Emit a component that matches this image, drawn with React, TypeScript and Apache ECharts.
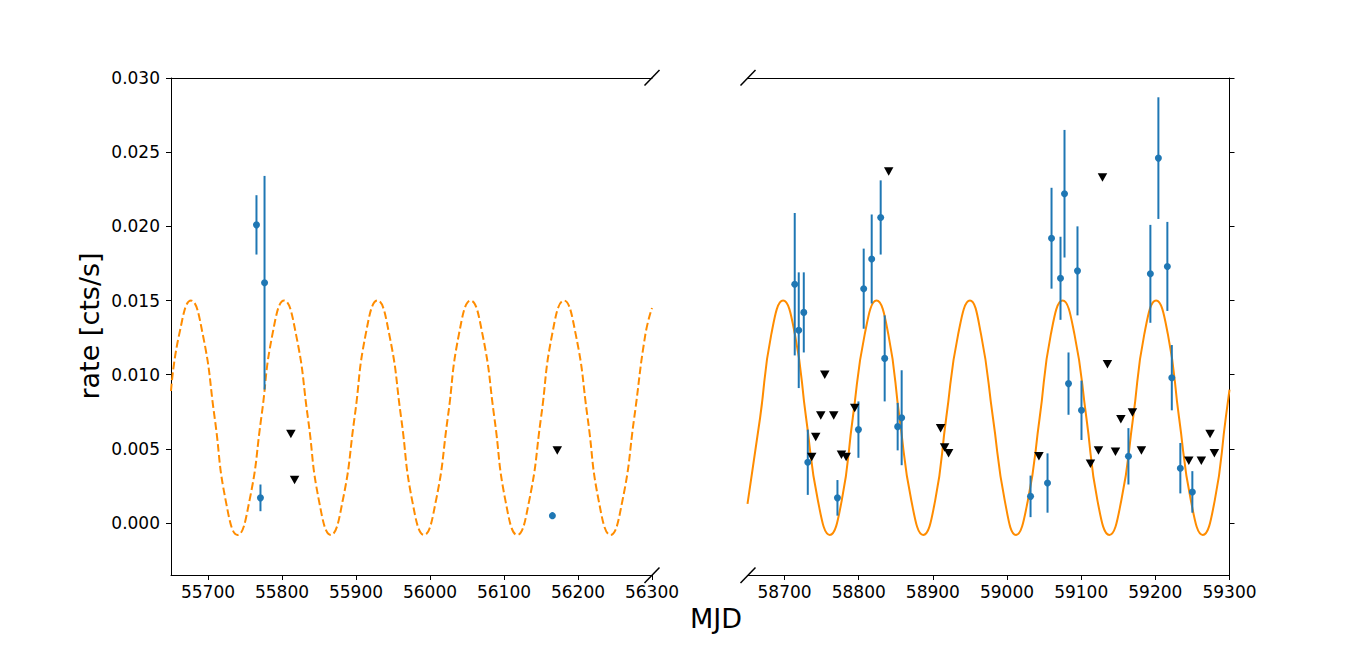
import React, { useEffect, useRef } from "react";
import * as echarts from "echarts";

// ---------- data ----------
const yTicks = [0, 0.005, 0.01, 0.015, 0.02, 0.025, 0.03];
const leftXTicks = [55700, 55800, 55900, 56000, 56100, 56200, 56300];
const rightXTicks = [58700, 58800, 58900, 59000, 59100, 59200, 59300];

// left panel detections (MJD, rate, error)
const leftDetX = [55765.5, 55776.4, 55770.9, 56165.4];
const leftDetY = [0.0201, 0.0162, 0.0017, 0.0005];
const leftDetErr = [0.002, 0.0072, 0.0009, 0.0002];
// left panel upper limits
const leftUlX = [55812, 55817, 56172];
const leftUlY = [0.006, 0.0029, 0.0049];

// right panel detections
const rightDetX = [
  58713.7, 58719.1, 58725.9, 58731.3, 58771.3, 58799.6, 58806.7, 58817.5, 58829.6,
  58835.0, 58852.5, 58857.9, 59031.7, 59054.6, 59060.0, 59072.1, 59077.5, 59082.9,
  59095.0, 59100.4, 59163.7, 59193.3, 59204.1, 59216.2, 59222.2, 59233.7, 59249.9,
];
const rightDetY = [
  0.0161, 0.013, 0.0142, 0.0041, 0.0017, 0.0063, 0.0158, 0.0178, 0.0206,
  0.0111, 0.0065, 0.0071, 0.0018, 0.0027, 0.0192, 0.0165, 0.0222, 0.0094,
  0.017, 0.0076, 0.0045, 0.0168, 0.0246, 0.0173, 0.0098, 0.0037, 0.0021,
];
const rightDetErr = [
  0.0048, 0.0039, 0.0027, 0.0022, 0.0012, 0.0019, 0.0027, 0.003, 0.0025,
  0.0029, 0.0016, 0.0032, 0.0014, 0.002, 0.0034, 0.0028, 0.0043, 0.0021,
  0.003, 0.002, 0.0019, 0.0033, 0.0041, 0.003, 0.0022, 0.0017, 0.0014,
];
// right panel upper limits
const rightUlX = [
  58840.4, 58754.2, 58748.8, 58766.3, 58742.0, 58736.6, 58794.6, 58776.7, 58783.0,
  58910.4, 58915.8, 58921.2, 59043.0, 59128.7, 59135.4, 59112.5, 59123.3, 59146.2,
  59153.5, 59169.1, 59181.2, 59245.1, 59262.0, 59273.8, 59279.6,
];
const rightUlY = [
  0.0237, 0.01, 0.00725, 0.00725, 0.0058, 0.00446, 0.00775, 0.0046, 0.00446,
  0.0064, 0.0051, 0.0047, 0.0045, 0.0233, 0.0107, 0.004, 0.0049, 0.0048,
  0.007, 0.00745, 0.0049, 0.0042, 0.0042, 0.006, 0.0047,
];

// model curve, points
const leftCurveX = [
  55650, 55661, 55677, 55693, 55709, 55724, 55740, 55756, 55772, 55787, 55803, 55819,
  55835, 55850, 55866, 55882, 55898, 55913, 55929, 55945, 55961, 55976, 55992, 56008,
  56024, 56039, 56055, 56071, 56087, 56102, 56118, 56134, 56150, 56165, 56181, 56197,
  56213, 56228, 56244, 56260, 56276, 56291, 56300,
];
const leftCurveY = [
  0.0089, 0.0127, 0.015, 0.0127, 0.0071, 0.0015, -0.0008, 0.0015, 0.0071, 0.0127, 0.015, 0.0127,
  0.0071, 0.0015, -0.0008, 0.0015, 0.0071, 0.0127, 0.015, 0.0127, 0.0071, 0.0015, -0.0008, 0.0015,
  0.0071, 0.0127, 0.015, 0.0127, 0.0071, 0.0015, -0.0008, 0.0015, 0.0071, 0.0127, 0.015, 0.0127,
  0.0071, 0.0015, -0.0008, 0.0015, 0.0071, 0.0127, 0.0145,
];
const rightCurveX = [
  58650, 58667, 58682, 58698, 58714, 58729, 58745, 58761, 58777, 58792, 58808, 58824,
  58840, 58855, 58871, 58887, 58903, 58918, 58934, 58950, 58965, 58981, 58997, 59012,
  59028, 59044, 59059, 59075, 59091, 59107, 59122, 59138, 59154, 59170, 59185, 59201,
  59217, 59232, 59248, 59264, 59280, 59295, 59300,
];
const rightCurveY = [
  0.0013, 0.0071, 0.0127, 0.015, 0.0127, 0.0071, 0.0015, -0.0008, 0.0015, 0.0071, 0.0127, 0.015,
  0.0127, 0.0071, 0.0015, -0.0008, 0.0015, 0.0071, 0.0127, 0.015, 0.0127, 0.0071, 0.0015, -0.0008,
  0.0015, 0.0071, 0.0127, 0.015, 0.0127, 0.0071, 0.0015, -0.0008, 0.0015, 0.0071, 0.0127, 0.015,
  0.0127, 0.0071, 0.0015, -0.0008, 0.0015, 0.0071, 0.009,
];

// ---------- styling ----------
const FONT = "DejaVu Sans";
const BLUE = "#1f77b4";
const ORANGE = "#ff8c00";
const Y_MIN = -0.0035;
const Y_MAX = 0.03;

const zip2 = (a: number[], b: number[]) => a.map((v, i) => [v, b[i]]);
const zip3 = (a: number[], b: number[], c: number[]) => a.map((v, i) => [v, b[i], c[i]]);

const errRender = (params: any, api: any) => {
  const x = api.value(0);
  const y = api.value(1);
  const e = api.value(2);
  const p1 = api.coord([x, y - e]);
  const p2 = api.coord([x, y + e]);
  return {
    type: "line",
    shape: { x1: p1[0], y1: p1[1], x2: p2[0], y2: p2[1] },
    style: { stroke: BLUE, lineWidth: 2 },
  };
};

const axisLineStyle = { color: "#000", width: 1 };

export default function App() {
  const ref = useRef<HTMLDivElement>(null);
  useEffect(() => {
    if (!ref.current) return;
    const chart = echarts.init(ref.current, undefined, { renderer: "svg" });
    const labelStyle = { color: "#000", fontFamily: FONT, fontSize: 17 };
    const breakLine = (x1: number, y1: number, x2: number, y2: number) => ({
      type: "line",
      shape: { x1, y1, x2, y2 },
      style: { stroke: "#000", lineWidth: 1.5 },
      z: 100,
    });
    const option: any = {
      animation: false,
      backgroundColor: "#fff",
      grid: [
        { left: 171, top: 78, width: 481, height: 497 },
        { left: 747.5, top: 78, width: 482, height: 497 },
      ],
      xAxis: [
        {
          gridIndex: 0,
          type: "value",
          min: 55650,
          max: 56300,
          position: "bottom",
          axisLine: { show: true, onZero: false, lineStyle: axisLineStyle },
          axisTick: { show: true, inside: false, length: 5, lineStyle: axisLineStyle, customValues: leftXTicks },
          axisLabel: { show: true, ...labelStyle, margin: 8, customValues: leftXTicks, formatter: (v: number) => String(v) },
          splitLine: { show: false },
        },
        {
          gridIndex: 0,
          type: "value",
          min: 55650,
          max: 56300,
          position: "top",
          axisLine: { show: true, onZero: false, lineStyle: axisLineStyle },
          axisTick: { show: false },
          axisLabel: { show: false },
          splitLine: { show: false },
        },
        {
          gridIndex: 1,
          type: "value",
          min: 58650,
          max: 59300,
          position: "bottom",
          axisLine: { show: true, onZero: false, lineStyle: axisLineStyle },
          axisTick: { show: true, inside: false, length: 5, lineStyle: axisLineStyle, customValues: rightXTicks },
          axisLabel: { show: true, ...labelStyle, margin: 8, customValues: rightXTicks, formatter: (v: number) => String(v) },
          splitLine: { show: false },
        },
        {
          gridIndex: 1,
          type: "value",
          min: 58650,
          max: 59300,
          position: "top",
          axisLine: { show: true, onZero: false, lineStyle: axisLineStyle },
          axisTick: { show: false },
          axisLabel: { show: false },
          splitLine: { show: false },
        },
      ],
      yAxis: [
        {
          gridIndex: 0,
          type: "value",
          min: Y_MIN,
          max: Y_MAX,
          position: "left",
          axisLine: { show: true, onZero: false, lineStyle: axisLineStyle },
          axisTick: { show: true, inside: false, length: 5, lineStyle: axisLineStyle, customValues: yTicks },
          axisLabel: {
            show: true,
            ...labelStyle,
            margin: 11,
            customValues: yTicks,
            formatter: (v: number) => v.toFixed(3),
          },
          splitLine: { show: false },
        },
        {
          gridIndex: 1,
          type: "value",
          min: Y_MIN,
          max: Y_MAX,
          position: "right",
          axisLine: { show: true, onZero: false, lineStyle: axisLineStyle },
          axisTick: { show: true, inside: false, length: 5, lineStyle: axisLineStyle, customValues: yTicks },
          axisLabel: { show: false, customValues: yTicks },
          splitLine: { show: false },
        },
      ],
      series: [
        {
          type: "line",
          xAxisIndex: 0,
          yAxisIndex: 0,
          data: zip2(leftCurveX, leftCurveY),
          smooth: 0.5,
          showSymbol: false,
          symbol: "none",
          lineStyle: { color: ORANGE, width: 2, type: [7.7, 3.3] },
          z: 1,
        },
        {
          type: "line",
          xAxisIndex: 2,
          yAxisIndex: 1,
          data: zip2(rightCurveX, rightCurveY),
          smooth: 0.5,
          showSymbol: false,
          symbol: "none",
          lineStyle: { color: ORANGE, width: 2 },
          z: 1,
        },
        {
          type: "custom",
          xAxisIndex: 0,
          yAxisIndex: 0,
          renderItem: errRender,
          data: zip3(leftDetX, leftDetY, leftDetErr),
          encode: { x: 0, y: 1 },
          z: 2,
        },
        {
          type: "custom",
          xAxisIndex: 2,
          yAxisIndex: 1,
          renderItem: errRender,
          data: zip3(rightDetX, rightDetY, rightDetErr),
          encode: { x: 0, y: 1 },
          z: 2,
        },
        {
          type: "scatter",
          xAxisIndex: 0,
          yAxisIndex: 0,
          data: zip2(leftDetX, leftDetY),
          symbol: "circle",
          symbolSize: 7,
          itemStyle: { color: BLUE, opacity: 1 },
          z: 3,
        },
        {
          type: "scatter",
          xAxisIndex: 2,
          yAxisIndex: 1,
          data: zip2(rightDetX, rightDetY),
          symbol: "circle",
          symbolSize: 7,
          itemStyle: { color: BLUE, opacity: 1 },
          z: 3,
        },
        {
          type: "scatter",
          xAxisIndex: 0,
          yAxisIndex: 0,
          data: zip2(leftUlX, leftUlY),
          symbol: "triangle",
          symbolRotate: 180,
          symbolSize: [9.5, 8.5],
          itemStyle: { color: "#000", opacity: 1 },
          z: 4,
        },
        {
          type: "scatter",
          xAxisIndex: 2,
          yAxisIndex: 1,
          data: zip2(rightUlX, rightUlY),
          symbol: "triangle",
          symbolRotate: 180,
          symbolSize: [9.5, 8.5],
          itemStyle: { color: "#000", opacity: 1 },
          z: 4,
        },
      ],
      graphic: [
        breakLine(644.5, 85.5, 659.5, 70),
        breakLine(644.5, 583, 659.5, 567.5),
        breakLine(740.5, 85.5, 755.5, 70),
        breakLine(740.5, 583, 755.5, 567.5),
        {
          type: "text",
          x: 89,
          y: 326,
          rotation: Math.PI / 2,
          style: {
            text: "rate [cts/s]",
            fontFamily: FONT,
            fontSize: 27,
            fill: "#000",
            align: "center",
            verticalAlign: "middle",
          },
        },
        {
          type: "text",
          x: 716,
          y: 618,
          style: {
            text: "MJD",
            fontFamily: FONT,
            fontSize: 27,
            fill: "#000",
            align: "center",
            verticalAlign: "middle",
          },
        },
      ],
    };
    chart.setOption(option);
    return () => chart.dispose();
  }, []);
  return (
    <div
      ref={ref}
      style={{ position: "absolute", left: 0, top: 0, width: "1366px", height: "646px" }}
    />
  );
}
